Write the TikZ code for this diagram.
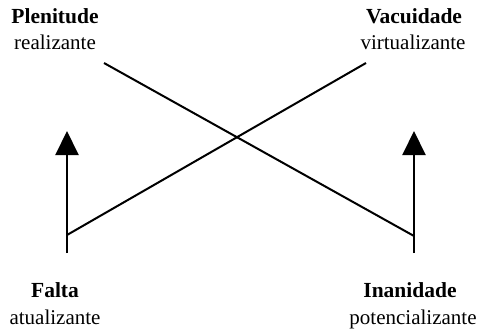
\documentclass[tikz,border=0pt]{standalone}
\usepackage{fontspec}
\setmainfont{Liberation Serif}
\usetikzlibrary{arrows.meta}
\tikzset{
  link/.style={line width=2pt, line cap=butt},
  rise/.style={link, -{Triangle[length=24pt,width=23pt]}},
  title/.style={font=\fontsize{21.5}{25}\selectfont\bfseries, anchor=base, inner sep=0pt},
  sub/.style={font=\fontsize{21}{25}\selectfont, anchor=base, inner sep=0pt}
}
\begin{document}
\begin{tikzpicture}[x=1pt,y=-1pt]
  \useasboundingbox (0,0) rectangle (482,329);
  % labels
  \node[title] (plen) at (55,24) {Plenitude};
  \node[sub] (plens) at (55,50) {realizante};
  \node[title] (vac) at (414,24) {Vacuidade};
  \node[sub] (vacs) at (413,50) {virtualizante};
  \node[title] (falta) at (55,297) {Falta};
  \node[sub] (faltas) at (55,324) {atualizante};
  \node[title] (inan) at (410,297) {Inanidade};
  \node[sub] (inans) at (413,324) {potencializante};
  % line ends
  \coordinate (lbot) at (67,253);
  \coordinate (ltip) at (67,131);
  \coordinate (rbot) at (414,253);
  \coordinate (rtip) at (414,131);
  \coordinate (ljoin) at (67,235);
  \coordinate (rjoin) at (414,236);
  \coordinate (vend) at (366,63);
  \coordinate (pend) at (104,63);
  % arrows and crossing diagonals
  \draw[rise] (lbot) -- (ltip);
  \draw[rise] (rbot) -- (rtip);
  \draw[link] (ljoin) -- (vend);
  \draw[link] (pend) -- (rjoin);
\end{tikzpicture}
\end{document}
